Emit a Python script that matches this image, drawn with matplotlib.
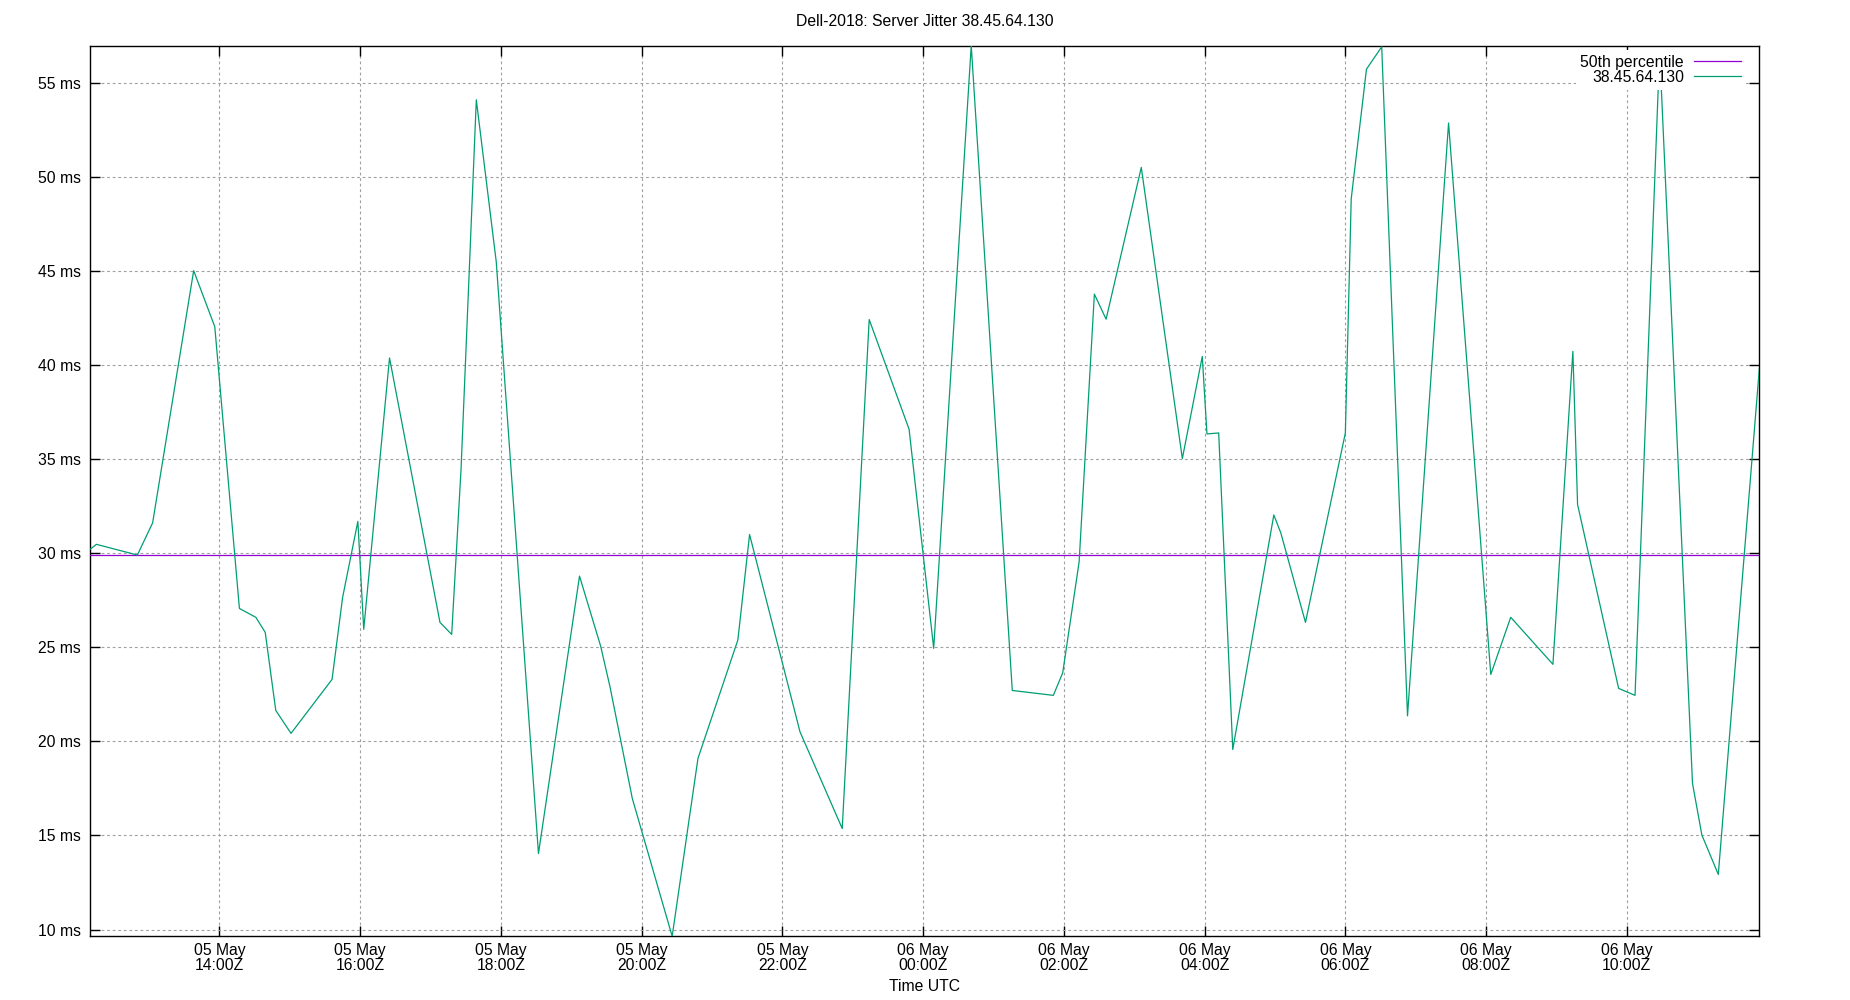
"""
Dell-2018 server jitter chart, gnuplot look
"""
import matplotlib
matplotlib.use('Agg')
import matplotlib.pyplot as plt
import matplotlib.dates as mdates
from matplotlib.ticker import FuncFormatter, MultipleLocator
import pandas as pd

plt.rcParams['font.family'] = ['Liberation Sans', 'DejaVu Sans']

# ── data ──
times = [
    '2018-05-05 12:10', '2018-05-05 12:15', '2018-05-05 12:50', '2018-05-05 13:03',
    '2018-05-05 13:38', '2018-05-05 13:56', '2018-05-05 14:17', '2018-05-05 14:31',
    '2018-05-05 14:39', '2018-05-05 14:48', '2018-05-05 15:01', '2018-05-05 15:36',
    '2018-05-05 15:45', '2018-05-05 15:58', '2018-05-05 16:03', '2018-05-05 16:25',
    '2018-05-05 17:08', '2018-05-05 17:18', '2018-05-05 17:26', '2018-05-05 17:39',
    '2018-05-05 17:56', '2018-05-05 18:32', '2018-05-05 19:07', '2018-05-05 19:25',
    '2018-05-05 19:33', '2018-05-05 19:52', '2018-05-05 20:26', '2018-05-05 20:48',
    '2018-05-05 21:22', '2018-05-05 21:32', '2018-05-05 22:15', '2018-05-05 22:51',
    '2018-05-05 23:14', '2018-05-05 23:48', '2018-05-06 00:09', '2018-05-06 00:41',
    '2018-05-06 01:16', '2018-05-06 01:51', '2018-05-06 01:59', '2018-05-06 02:13',
    '2018-05-06 02:26', '2018-05-06 02:36', '2018-05-06 03:06', '2018-05-06 03:41',
    '2018-05-06 03:58', '2018-05-06 04:02', '2018-05-06 04:12', '2018-05-06 04:24',
    '2018-05-06 04:59', '2018-05-06 05:05', '2018-05-06 05:26', '2018-05-06 06:00',
    '2018-05-06 06:05', '2018-05-06 06:18', '2018-05-06 06:31', '2018-05-06 06:53',
    '2018-05-06 07:28', '2018-05-06 08:04', '2018-05-06 08:21', '2018-05-06 08:57',
    '2018-05-06 09:14', '2018-05-06 09:18', '2018-05-06 09:53', '2018-05-06 10:07',
    '2018-05-06 10:27', '2018-05-06 10:29', '2018-05-06 10:56', '2018-05-06 11:04',
    '2018-05-06 11:18', '2018-05-06 11:53',
]
jitter_ms = [
    30.23, 30.48, 29.91, 31.62, 45.03, 42.05, 27.07, 26.60,
    25.80, 21.65, 20.43, 23.30, 27.66, 31.70, 25.96, 40.39,
    26.33, 25.69, 34.50, 54.11, 45.50, 14.04, 28.79, 25.07,
    22.90, 16.97, 9.64, 19.10, 25.39, 31.00, 20.51, 15.37,
    42.43, 36.60, 24.95, 57.00, 22.71, 22.45, 23.65, 29.55,
    43.78, 42.45, 50.52, 35.04, 40.47, 36.35, 36.40, 19.57,
    32.04, 31.08, 26.33, 36.40, 48.85, 55.74, 56.93, 21.36,
    52.88, 23.56, 26.60, 24.10, 40.74, 32.60, 22.82, 22.45,
    55.10, 55.30, 17.77, 15.02, 12.93, 39.82,
]
p50_ms = 29.9
host = '38.45.64.130'

# ── colours ──
GREEN = '#009e73'
PURPLE = '#9400d3'
GRID = '#a0a0a0'
FS = 11.3

t = pd.to_datetime(times)

fig = plt.figure(figsize=(18.5, 10), dpi=100)
ax = fig.add_axes([0.0489, 0.0637, 0.951 - 0.0489, 0.9545 - 0.0637])

ax.plot(t, [p50_ms] * len(t), color=PURPLE, lw=0.9, label='50th percentile', zorder=3)
ax.plot(t, jitter_ms, color=GREEN, lw=0.9, label=host, zorder=4)

ax.set_xlim(t.min(), t.max())
ax.set_ylim(min(jitter_ms), max(jitter_ms))

ax.yaxis.set_major_locator(MultipleLocator(5))
ax.yaxis.set_major_formatter(FuncFormatter(lambda v, p: f'{v:.0f} ms'))
ax.xaxis.set_major_locator(mdates.HourLocator(byhour=range(0, 24, 2)))
ax.xaxis.set_major_formatter(mdates.DateFormatter('%d %b\n%H:%MZ'))

ax.tick_params(direction='in', top=True, right=True, length=7, width=1,
               labelsize=FS, colors='black')
ax.tick_params(axis='x', pad=5)
ax.tick_params(axis='y', pad=7)
for s in ax.spines.values():
    s.set_linewidth(1.0)

ax.grid(True, color=GRID, lw=0.8, linestyle=(0, (2.5, 2.5)))
ax.set_axisbelow(True)

ax.set_xlabel('Time UTC', fontsize=FS, va='center')
ax.xaxis.set_label_coords(0.5, -0.0558)

fig.text(0.5, 1 - 21 / 1000, 'Dell-2018: Server Jitter 38.45.64.130',
         ha='center', va='center', fontsize=FS)

# legend: opaque white box, text left of the sample line
leg = ax.legend(loc='upper right', bbox_to_anchor=(0.9916, 0.9948),
                markerfirst=False, fontsize=FS,
                handlelength=3.0, handletextpad=0.6, labelspacing=0.0,
                borderaxespad=0.0, borderpad=0.3, frameon=True, fancybox=False,
                framealpha=1.0, facecolor='white', edgecolor='none')
for txt in leg.get_texts():
    txt.set_ha('right')
leg._legend_box.align = 'right'

fig.canvas.draw()
for lbl in ax.get_xticklabels():
    lbl.set_linespacing(0.95)

fig.savefig('out.png', dpi=100, facecolor='white')
plt.close(fig)
